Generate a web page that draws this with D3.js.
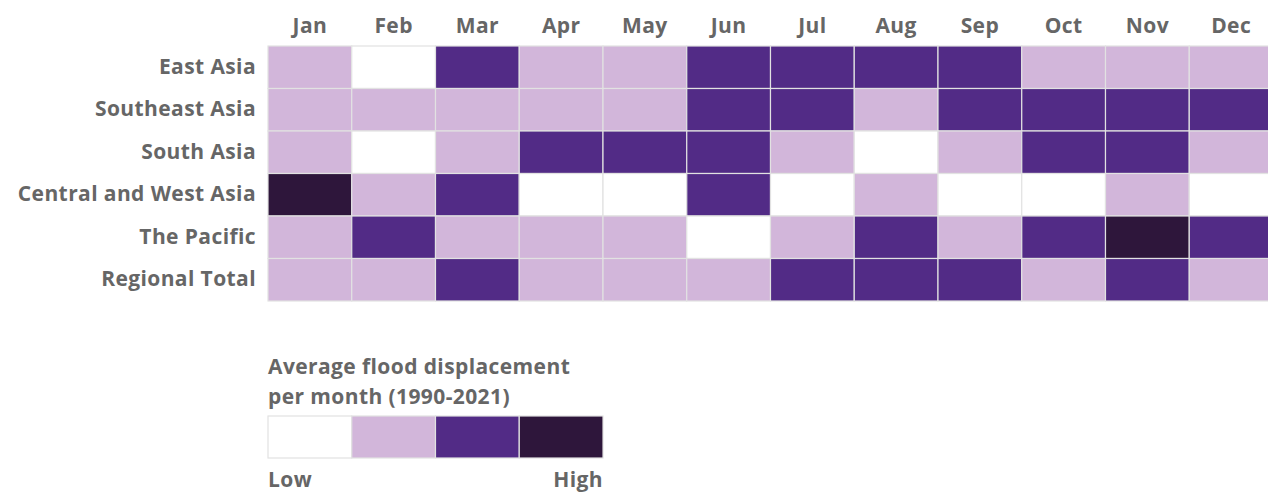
<!DOCTYPE html>
<html>
<head>
<meta charset="utf-8">
<script src="https://cdn.jsdelivr.net/npm/d3@7"></script>
<style>
  body { margin: 0; background: #fff; overflow: hidden; }
  text { font-family: "Open Sans", sans-serif; font-weight: 700; fill: #666; letter-spacing: 0.4px; }
</style>
</head>
<body>
<script>
var months = ['Jan','Feb','Mar','Apr','May','Jun','Jul','Aug','Sep','Oct','Nov','Dec'];
var regions = ['East Asia','Southeast Asia','South Asia','Central and West Asia','The Pacific','Regional Total'];
// level 0 = low ... 3 = high
var eastAsia      = [1,0,2,1,1,2,2,2,2,1,1,1];
var southeastAsia = [1,1,1,1,1,2,2,1,2,2,2,2];
var southAsia     = [1,0,1,2,2,2,1,0,1,2,2,1];
var centralWest   = [3,1,2,0,0,2,0,1,0,0,1,0];
var pacific       = [1,2,1,1,1,0,1,2,1,2,3,2];
var regionalTotal = [1,1,2,1,1,1,2,2,2,1,2,1];
var levels = [0,1,2,3];
var legendLabels = ['Low','High'];

var rows = [eastAsia, southeastAsia, southAsia, centralWest, pacific, regionalTotal];

var width = 1268, height = 493;
var fs = "21px";
var svg = d3.select("body").append("svg").attr("width", width).attr("height", height);

var x = d3.scaleBand().domain(months).range([268, 1273]);
var y = d3.scaleBand().domain(regions).range([46, 301]);
var color = d3.scaleOrdinal().domain(levels).range(['#ffffff','#d2b6da','#522b86','#2e163b']);

var cells = [];
rows.forEach(function(r, i) {
  r.forEach(function(v, j) { cells.push({region: regions[i], month: months[j], v: v}); });
});

svg.append("g").selectAll("rect").data(cells).enter().append("rect")
  .attr("x", function(d) { return x(d.month); })
  .attr("y", function(d) { return y(d.region); })
  .attr("width", x.bandwidth())
  .attr("height", y.bandwidth())
  .attr("fill", function(d) { return color(d.v); })
  .attr("stroke", "#e2e2e2")
  .attr("stroke-width", 1.2);

var xAxis = svg.append("g").attr("transform", "translate(0,46)")
  .call(d3.axisTop(x).tickSize(0).tickPadding(13));
xAxis.select(".domain").remove();
xAxis.selectAll("text").style("font-size", fs).attr("fill", "#666");

var yAxis = svg.append("g").attr("transform", "translate(268,0)")
  .call(d3.axisLeft(y).tickSize(0).tickPadding(12));
yAxis.select(".domain").remove();
yAxis.selectAll("text").style("font-size", fs).attr("fill", "#666");

// legend
var lx = d3.scaleBand().domain(levels).range([268, 603]);
var legend = svg.append("g");
legend.append("text").attr("x", 268).attr("y", 374).style("font-size", fs).text("Average flood displacement");
legend.append("text").attr("x", 268).attr("y", 404).style("font-size", fs).text("per month (1990-2021)");
legend.selectAll("rect").data(levels).enter().append("rect")
  .attr("x", function(d) { return lx(d); })
  .attr("y", 416)
  .attr("width", lx.bandwidth())
  .attr("height", 42)
  .attr("fill", function(d) { return color(d); })
  .attr("stroke", "#e2e2e2")
  .attr("stroke-width", 1.2);
legend.append("text").attr("x", 268).attr("y", 487).style("font-size", fs).text(legendLabels[0]);
legend.append("text").attr("x", 603).attr("y", 487).attr("text-anchor", "end").style("font-size", fs).text(legendLabels[1]);
</script>
</body>
</html>
